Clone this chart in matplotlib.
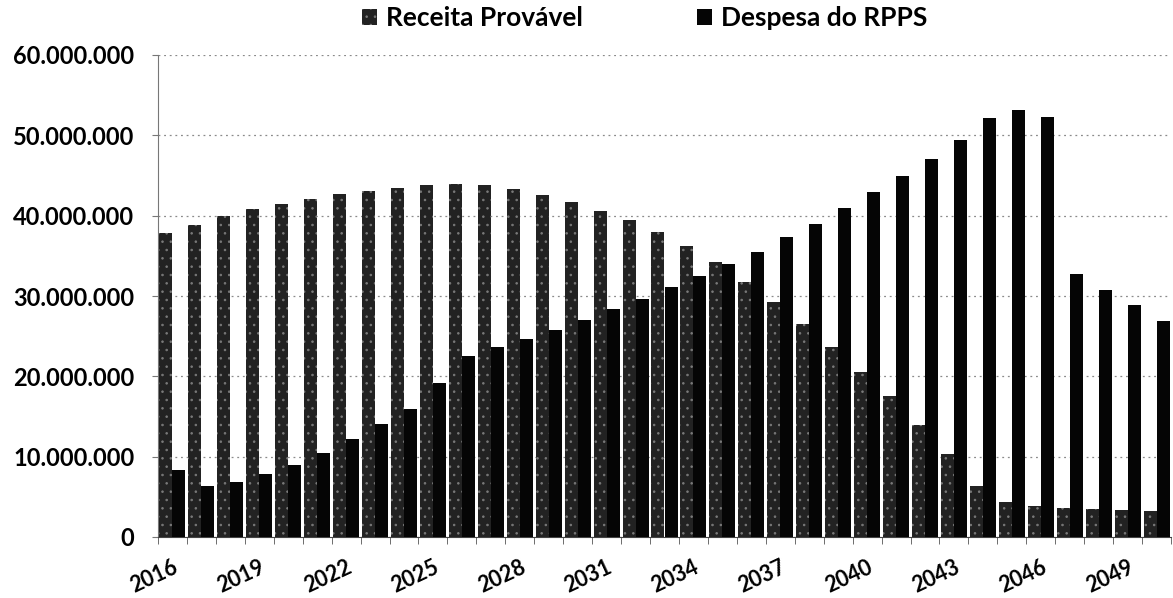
import numpy as np
import matplotlib
matplotlib.use("Agg")
import matplotlib.pyplot as plt
from matplotlib.ticker import FuncFormatter, MultipleLocator

# anos e valores (milhoes de R$)
anos = list(range(2016, 2051))
receita = [37.8, 38.8, 39.9, 40.8, 41.5, 42.1, 42.7, 43.1, 43.5, 43.8,
           44.0, 43.8, 43.3, 42.6, 41.7, 40.6, 39.5, 38.0, 36.2, 34.2,
           31.8, 29.3, 26.5, 23.7, 20.6, 17.5, 13.9, 10.3, 6.35, 4.3,
           3.8, 3.6, 3.45, 3.3, 3.25]
despesa = [8.3, 6.35, 6.9, 7.8, 9.0, 10.5, 12.2, 14.1, 15.9, 19.2,
           22.5, 23.6, 24.6, 25.8, 27.0, 28.4, 29.6, 31.1, 32.5, 34.0,
           35.5, 37.3, 39.0, 40.9, 42.9, 45.0, 47.1, 49.4, 52.1, 53.1,
           52.3, 32.8, 30.8, 28.9, 26.9]
rotulos = [str(a) if (a - 2016) % 3 == 0 else "" for a in anos]

receita = np.array(receita) * 1e6
despesa = np.array(despesa) * 1e6

plt.rcParams['font.family'] = ['Lato', 'DejaVu Sans']
plt.rcParams['font.weight'] = 'bold'
plt.rcParams['hatch.linewidth'] = 0.6

fig = plt.figure(figsize=(11.73, 5.98), dpi=100)
ax = fig.add_axes([158/1173, 1 - 537/598, (1171-158)/1173, (537-55)/598])

x = np.arange(len(anos))
w = 0.45
b1 = ax.bar(x - w/2, receita, w, facecolor='#222222', edgecolor='#7a7a7a', linewidth=0,
            hatch='..', label='Receita Provável', zorder=3)
b2 = ax.bar(x + w/2, despesa, w, color='#050505', linewidth=0, label='Despesa do RPPS', zorder=3)

ax.set_xlim(-0.5, len(anos) - 0.5)
ax.set_ylim(0, 60e6)
ax.yaxis.set_major_locator(MultipleLocator(10e6))
ax.yaxis.set_major_formatter(FuncFormatter(lambda v, p: f"{int(v):,}".replace(",", ".")))
ax.grid(axis='y', linestyle=(0, (1.5, 3)), color='#8a8a8a', linewidth=0.9, zorder=0)

ax.set_xticks(x)
ax.set_xticklabels(rotulos, rotation=25, ha='right', rotation_mode='anchor', fontsize=15.5, fontweight='bold')
ax.tick_params(axis='x', which='major', length=0, pad=14)
ax.set_xticks(np.arange(-0.5, len(anos), 1), minor=True)
ax.tick_params(axis='x', which='minor', length=5, color='#555555')
ax.tick_params(axis='y', length=4, color='#777777', labelsize=17, pad=13)
for t in ax.get_yticklabels():
    t.set_fontweight('bold')

for s in ['top', 'right']:
    ax.spines[s].set_visible(False)
ax.spines['left'].set_color('#777777')
ax.spines['bottom'].set_color('#444444')

fig.legend(handles=[b1, b2], loc='center left', bbox_to_anchor=(362/1173, 1 - 18/598), ncol=2,
           frameon=False, prop={'size': 19, 'weight': 'bold'}, handlelength=0.55,
           handleheight=0.55, handletextpad=0.35, columnspacing=4.35,
           borderpad=0, borderaxespad=0)

fig.savefig('out.png', dpi=100)
